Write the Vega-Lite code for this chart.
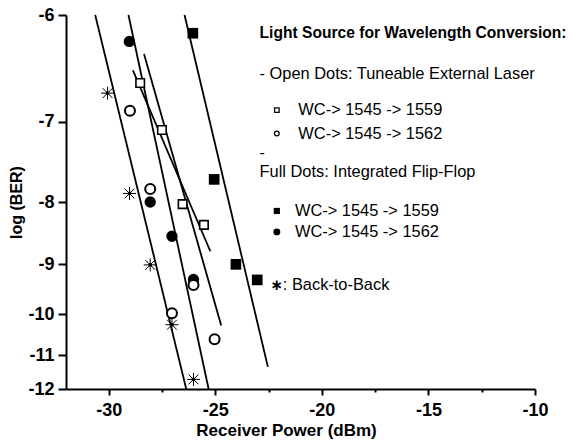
{
  "$schema": "https://vega.github.io/schema/vega-lite/v6.json",
  "autosize": {"type": "none"},
  "padding": {"left": 66, "top": 15, "right": 37, "bottom": 52},
  "width": 469,
  "height": 374,
  "background": "white",
  "config": {
    "view": {"stroke": null},
    "font": "Liberation Sans",
    "axis": {
      "domainColor": "black", "domainWidth": 2, "tickColor": "black", "tickWidth": 2,
      "labelColor": "black", "titleColor": "black", "labelFont": "Liberation Sans", "titleFont": "Liberation Sans",
      "labelFontWeight": "bold", "titleFontWeight": "bold", "labelFontSize": 18, "titleFontSize": 17, "grid": false
    }
  },
  "datasets": {
    "pts": [
      {"series": "FF 1559", "x": -26.05, "y": -6.15},
      {"series": "FF 1559", "x": -25.05, "y": -7.69},
      {"series": "FF 1559", "x": -24.03, "y": -9.0},
      {"series": "FF 1559", "x": -23.03, "y": -9.29},
      {"series": "FF 1562", "x": -29.03, "y": -6.22},
      {"series": "FF 1562", "x": -28.05, "y": -8.0},
      {"series": "FF 1562", "x": -27.03, "y": -8.52},
      {"series": "FF 1562", "x": -26.02, "y": -9.28},
      {"series": "TL 1559", "x": -28.52, "y": -6.6},
      {"series": "TL 1559", "x": -27.5, "y": -7.09},
      {"series": "TL 1559", "x": -26.53, "y": -8.03},
      {"series": "TL 1559", "x": -25.53, "y": -8.34},
      {"series": "TL 1562", "x": -29.0, "y": -6.88},
      {"series": "TL 1562", "x": -28.05, "y": -7.82},
      {"series": "TL 1562", "x": -26.02, "y": -9.39},
      {"series": "TL 1562", "x": -27.03, "y": -9.98},
      {"series": "TL 1562", "x": -25.03, "y": -10.59},
      {"series": "B2B", "x": -30.05, "y": -6.7},
      {"series": "B2B", "x": -29.02, "y": -7.88},
      {"series": "B2B", "x": -28.05, "y": -9.01},
      {"series": "B2B", "x": -27.03, "y": -10.24},
      {"series": "B2B", "x": -26.02, "y": -11.7}
    ],
    "fits": [
      {"series": "B2B", "x": -30.63, "y": -6},
      {"series": "B2B", "x": -26.36, "y": -12},
      {"series": "FF 1562", "x": -29.07, "y": -6},
      {"series": "FF 1562", "x": -25.31, "y": -12},
      {"series": "TL 1562", "x": -28.34, "y": -6.33},
      {"series": "TL 1562", "x": -24.72, "y": -10.26},
      {"series": "TL 1559", "x": -28.86, "y": -6.48},
      {"series": "TL 1559", "x": -25.23, "y": -8.77},
      {"series": "FF 1559", "x": -26.44, "y": -6},
      {"series": "FF 1559", "x": -22.53, "y": -11.33}
    ],
    "legendMarks": [
      {"series": "TL 1559", "x": -22.11, "y": -6.875},
      {"series": "TL 1562", "x": -22.11, "y": -7.13},
      {"series": "FF 1559", "x": -22.11, "y": -8.13},
      {"series": "FF 1562", "x": -22.11, "y": -8.45}
    ],
    "notes": [
      {"text": "- Open Dots: Tuneable External Laser", "x": -22.92, "y": -6.51},
      {"text": "WC-> 1545 -> 1559", "x": -21.1, "y": -6.875},
      {"text": "WC-> 1545 -> 1562", "x": -21.1, "y": -7.13},
      {"text": "-", "x": -22.92, "y": -7.36},
      {"text": "Full Dots: Integrated Flip-Flop", "x": -22.92, "y": -7.6},
      {"text": "WC-> 1545 -> 1559", "x": -21.26, "y": -8.13},
      {"text": "WC-> 1545 -> 1562", "x": -21.26, "y": -8.45},
      {"text": ": Back-to-Back", "x": -21.83, "y": -9.39}
    ],
    "heading": [
      {"text": "Light Source for Wavelength Conversion:", "x": -22.92, "y": -6.15}
    ],
    "star": [
      {"text": "∗", "x": -22.11, "y": -9.39}
    ]
  },
  "encoding": {
    "x": {"field": "x", "type": "quantitative",
      "scale": {"domain": [-32, -10], "nice": false, "zero": false},
      "axis": {
        "title": "Receiver Power (dBm)",
        "values": [-30, -27.5, -25, -22.5, -20, -17.5, -15, -12.5, -10],
        "labelExpr": "datum.value % 5 === 0 ? '' + datum.value : ''",
        "labelOverlap": false, "labelFlush": false,
        "tickSize": {"condition": {"test": "datum.value % 5 === 0", "value": 6}, "value": 3},
        "labelPadding": 6, "titlePadding": 3, "titleX": 220
      }
    },
    "y": {"field": "y", "type": "quantitative",
      "scale": {"type": "pow", "exponent": -1, "domain": [-12, -6], "nice": false, "zero": false},
      "axis": {
        "title": "log (BER)",
        "values": [-6, -7, -8, -9, -10, -11, -12],
        "labelExpr": "'' + datum.value",
        "labelOverlap": false, "labelFlush": false,
        "tickSize": 8, "labelPadding": 4, "titlePadding": 3, "titleFontSize": 16
      }
    }
  },
  "layer": [
    {"data": {"name": "fits"}, "mark": {"type": "line", "color": "black", "strokeWidth": 1.8},
      "encoding": {"detail": {"field": "series"}}},
    {"data": {"name": "pts"}, "transform": [{"filter": "datum.series === 'FF 1559'"}],
      "mark": {"type": "point", "shape": "square", "filled": true, "color": "black", "size": 114, "opacity": 1}},
    {"data": {"name": "pts"}, "transform": [{"filter": "datum.series === 'FF 1562'"}],
      "mark": {"type": "point", "shape": "circle", "filled": true, "color": "black", "size": 128, "opacity": 1}},
    {"data": {"name": "pts"}, "transform": [{"filter": "datum.series === 'TL 1559'"}],
      "mark": {"type": "point", "shape": "square", "fill": "white", "stroke": "black", "strokeWidth": 1.6, "size": 72, "opacity": 1}},
    {"data": {"name": "pts"}, "transform": [{"filter": "datum.series === 'TL 1562'"}],
      "mark": {"type": "point", "shape": "circle", "fill": "white", "stroke": "black", "strokeWidth": 2, "size": 100, "opacity": 1}},
    {"data": {"name": "pts"}, "transform": [{"filter": "datum.series === 'B2B'"}],
      "mark": {"type": "point", "shape": "M-1,0L1,0M0,-1L0,1M-0.75,-0.75L0.75,0.75M-0.75,0.75L0.75,-0.75M-0.18,-0.18L0.18,-0.18L0.18,0.18L-0.18,0.18Z", "fill": "black", "stroke": "black", "strokeWidth": 1, "size": 169, "opacity": 1}},
    {"data": {"name": "legendMarks"}, "transform": [{"filter": "datum.series === 'TL 1559'"}],
      "mark": {"type": "point", "shape": "square", "fill": "white", "stroke": "black", "strokeWidth": 1.3, "size": 20, "opacity": 1}},
    {"data": {"name": "legendMarks"}, "transform": [{"filter": "datum.series === 'TL 1562'"}],
      "mark": {"type": "point", "shape": "circle", "fill": "white", "stroke": "black", "strokeWidth": 1.3, "size": 22, "opacity": 1}},
    {"data": {"name": "legendMarks"}, "transform": [{"filter": "datum.series === 'FF 1559'"}],
      "mark": {"type": "point", "shape": "square", "filled": true, "color": "black", "size": 38, "opacity": 1}},
    {"data": {"name": "legendMarks"}, "transform": [{"filter": "datum.series === 'FF 1562'"}],
      "mark": {"type": "point", "shape": "circle", "filled": true, "color": "black", "size": 48, "opacity": 1}},
    {"data": {"name": "notes"}, "mark": {"type": "text", "align": "left", "baseline": "middle", "font": "Liberation Sans", "fontSize": 16.4, "color": "black"},
      "encoding": {"text": {"field": "text"}}},
    {"data": {"name": "heading"}, "mark": {"type": "text", "align": "left", "baseline": "middle", "font": "Liberation Sans", "fontSize": 15.6, "fontWeight": "bold", "color": "black"},
      "encoding": {"text": {"field": "text"}}},
    {"data": {"name": "star"}, "mark": {"type": "text", "align": "center", "baseline": "middle", "font": "DejaVu Sans", "fontSize": 15, "fontWeight": "bold", "color": "black"},
      "encoding": {"text": {"field": "text"}}}
  ]
}
